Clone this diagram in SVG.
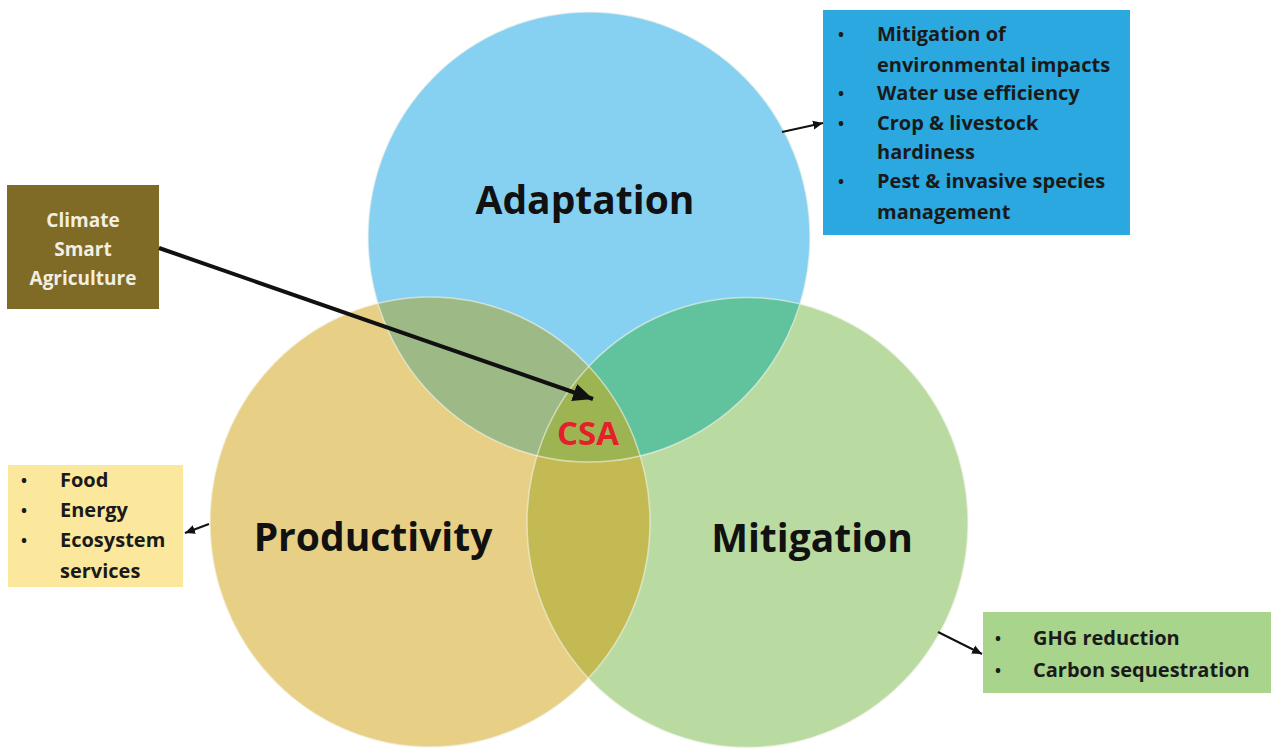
<svg xmlns="http://www.w3.org/2000/svg" width="1271" height="751" viewBox="0 0 1271 751">
<style>
.lbl{font-family:"Open Sans",Lato,"Liberation Sans",sans-serif;font-weight:bold;}
.big{font-size:39px;fill:#111;text-anchor:middle;}
.item{font-size:20px;fill:#1a1a1a;}
.bul{font-size:16px;}
.edge{fill:none;stroke:#f4f4ea;stroke-opacity:0.6;stroke-width:1.5;}
.conn{stroke:#111;fill:none;}
</style>
<defs>
<clipPath id="cA"><ellipse cx="589" cy="237" rx="221" ry="225"/></clipPath>
<clipPath id="cP"><ellipse cx="430" cy="522" rx="220" ry="225"/></clipPath>
<marker id="hBig" markerUnits="userSpaceOnUse" markerWidth="24" markerHeight="20" refX="20" refY="10" orient="auto"><path d="M0,1 L20,10 L0,19 Z" fill="#111"/></marker>
<marker id="hSm" markerUnits="userSpaceOnUse" markerWidth="12" markerHeight="10" refX="10" refY="5" orient="auto"><path d="M0,0.5 L10,5 L0,9.5 Z" fill="#111"/></marker>
</defs>
<rect width="1271" height="751" fill="#ffffff"/>

<g id="venn">
<ellipse cx="589" cy="237" rx="221" ry="225" fill="#86d1f2"/>
<ellipse cx="430" cy="522" rx="220" ry="225" fill="#e7cf86"/>
<ellipse cx="747.5" cy="522.5" rx="220.5" ry="225" fill="#b9dba1"/>
<ellipse cx="430" cy="522" rx="220" ry="225" fill="#9db985" clip-path="url(#cA)"/>
<ellipse cx="747.5" cy="522.5" rx="220.5" ry="225" fill="#60c39e" clip-path="url(#cA)"/>
<ellipse cx="747.5" cy="522.5" rx="220.5" ry="225" fill="#c3ba54" clip-path="url(#cP)"/>
<g clip-path="url(#cA)"><ellipse cx="747.5" cy="522.5" rx="220.5" ry="225" fill="#9db452" clip-path="url(#cP)"/></g>
<ellipse class="edge" cx="589" cy="237" rx="221" ry="225"/>
<ellipse class="edge" cx="430" cy="522" rx="220" ry="225"/>
<ellipse class="edge" cx="747.5" cy="522.5" rx="220.5" ry="225"/>
</g>

<g id="adaptation"><text class="lbl big" x="585" y="214">Adaptation</text></g>
<g id="productivity"><text class="lbl big" x="373" y="551">Productivity</text></g>
<g id="mitigation"><text class="lbl big" x="812" y="552">Mitigation</text></g>
<g id="csa"><text class="lbl" x="588" y="445" font-size="33" fill="#e5202a" text-anchor="middle">CSA</text></g>

<g id="csa-box">
<rect x="7" y="185" width="152" height="124" fill="#7f6b25"/>
<text class="lbl" font-size="19" fill="#f2efe2" text-anchor="middle"><tspan x="83" y="227">Climate</tspan><tspan x="83" y="256">Smart</tspan><tspan x="83" y="285">Agriculture</tspan></text>
</g>

<g id="adaptation-box">
<rect x="823" y="10" width="307" height="225" fill="#2aa8df"/>
<text class="lbl item">
<tspan class="bul" x="838" y="40">•</tspan><tspan x="877" y="41">Mitigation of</tspan>
<tspan x="877" y="72">environmental impacts</tspan>
<tspan class="bul" x="838" y="99">•</tspan><tspan x="877" y="100">Water use efficiency</tspan>
<tspan class="bul" x="838" y="129">•</tspan><tspan x="877" y="130">Crop &amp; livestock</tspan>
<tspan x="877" y="159">hardiness</tspan>
<tspan class="bul" x="838" y="187">•</tspan><tspan x="877" y="188">Pest &amp; invasive species</tspan>
<tspan x="877" y="219">management</tspan>
</text>
</g>

<g id="productivity-box">
<rect x="8" y="465" width="175" height="122" fill="#fce89c"/>
<text class="lbl item">
<tspan class="bul" x="21" y="486">•</tspan><tspan x="60" y="487">Food</tspan>
<tspan class="bul" x="21" y="516">•</tspan><tspan x="60" y="517">Energy</tspan>
<tspan class="bul" x="21" y="546">•</tspan><tspan x="60" y="547">Ecosystem</tspan>
<tspan x="60" y="578">services</tspan>
</text>
</g>

<g id="mitigation-box">
<rect x="983" y="612" width="288" height="81" fill="#a8d48c"/>
<text class="lbl item">
<tspan class="bul" x="995" y="644">•</tspan><tspan x="1033" y="645">GHG reduction</tspan>
<tspan class="bul" x="995" y="676">•</tspan><tspan x="1033" y="677">Carbon sequestration</tspan>
</text>
</g>

<g id="connectors">
<line class="conn" x1="159" y1="248" x2="593" y2="399" stroke-width="4" marker-end="url(#hBig)"/>
<line class="conn" x1="782" y1="132" x2="823" y2="123" stroke-width="2" marker-end="url(#hSm)"/>
<line class="conn" x1="209" y1="524" x2="185" y2="533" stroke-width="2" marker-end="url(#hSm)"/>
<line class="conn" x1="938" y1="632" x2="982" y2="654" stroke-width="2" marker-end="url(#hSm)"/>
</g>
</svg>
